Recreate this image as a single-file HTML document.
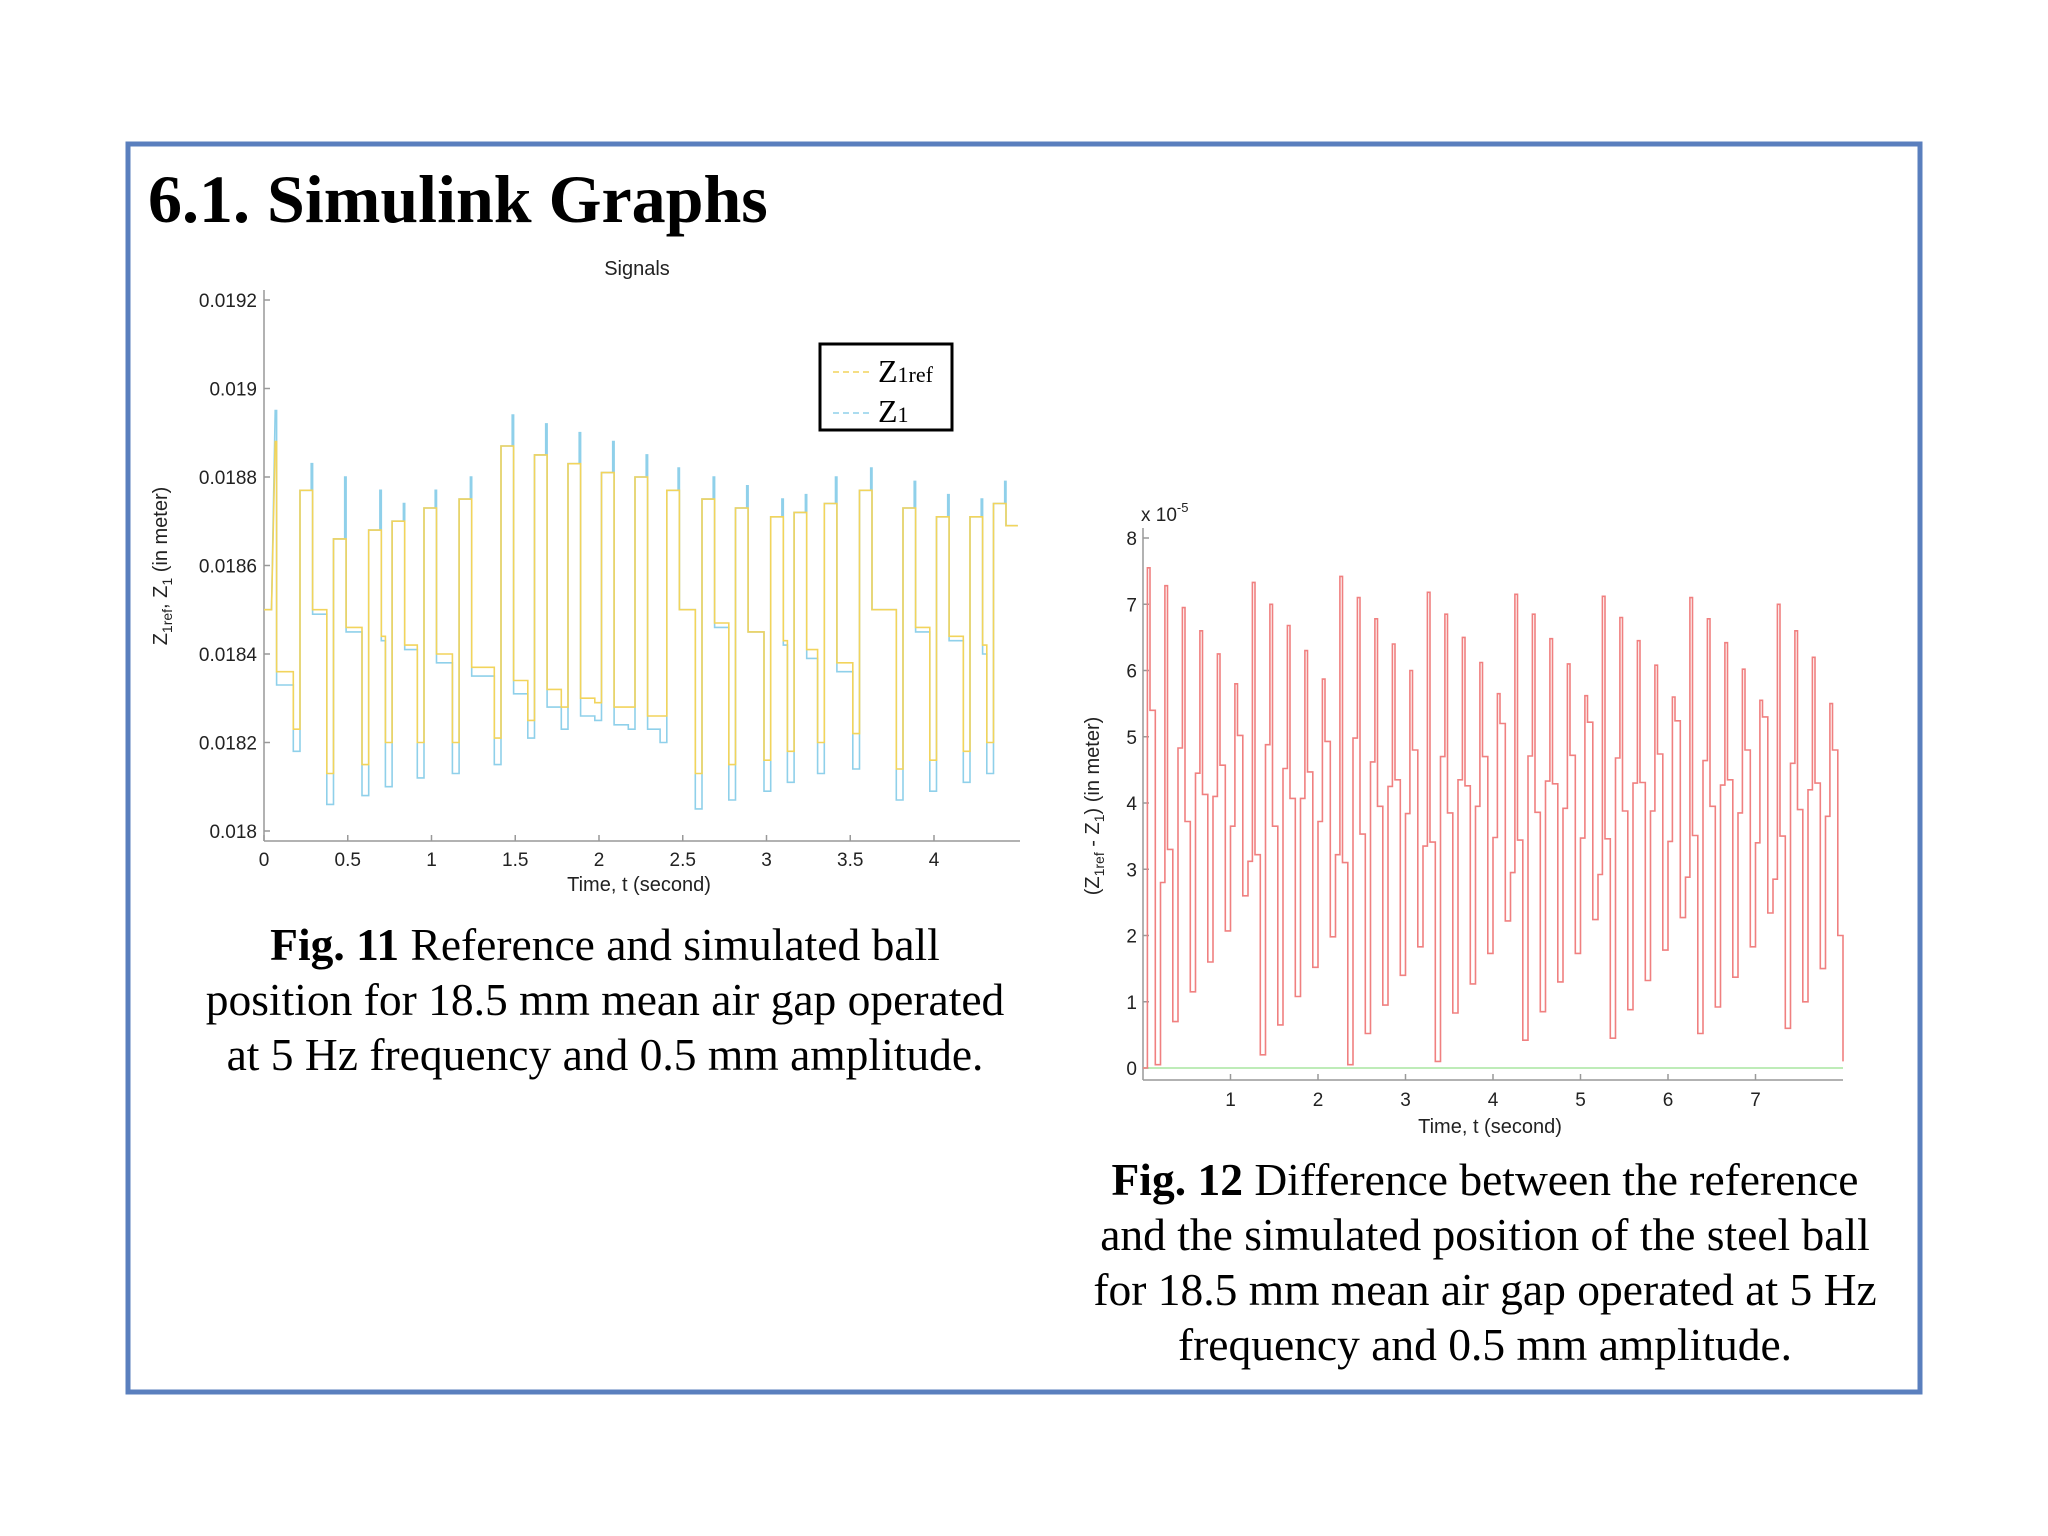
<!DOCTYPE html>
<html><head><meta charset="utf-8"><style>
html,body{margin:0;padding:0;background:#fff;}
svg{display:block;}
text{font-family:"Liberation Sans",sans-serif;fill:#222;}
.serif{font-family:"Liberation Serif",serif;fill:#000;}
</style></head><body>
<svg id="pg" width="2048" height="1536" viewBox="0 0 2048 1536" xmlns="http://www.w3.org/2000/svg">
<rect x="128" y="144" width="1792" height="1248" fill="none" stroke="#5a7fbe" stroke-width="5"/>
<text class="serif" x="148" y="222" font-size="68" font-weight="bold">6.1. Simulink Graphs</text>

<g id="c1">
<text x="637" y="275" font-size="20" text-anchor="middle">Signals</text>
<line x1="264" y1="290" x2="264" y2="841" stroke="#999" stroke-width="1.5"/>
<line x1="264" y1="841" x2="1020" y2="841" stroke="#999" stroke-width="1.5"/>
<text x="639" y="891" font-size="20" text-anchor="middle">Time, t (second)</text>
<text transform="translate(167,566) rotate(-90)" font-size="20" text-anchor="middle">Z<tspan font-size="14" dy="5">1ref</tspan><tspan dy="-5">, Z</tspan><tspan font-size="14" dy="5">1</tspan><tspan dy="-5"> (in meter)</tspan></text>
<g id="c1ticks"></g>
<g id="c1lines"></g>
<g>
<rect x="820" y="344" width="132" height="86" fill="#fff" stroke="#000" stroke-width="3"/>
<line x1="833" y1="372" x2="870" y2="372" stroke="#f2d45c" stroke-width="1.5" stroke-dasharray="6,4"/>
<text class="serif" x="878" y="382" font-size="32">Z<tspan font-size="22">1ref</tspan></text>
<line x1="833" y1="413" x2="870" y2="413" stroke="#8fd0ea" stroke-width="1.5" stroke-dasharray="6,4"/>
<text class="serif" x="878" y="422" font-size="32">Z<tspan font-size="22">1</tspan></text>
</g>
</g>

<g id="c2">
<line x1="1143" y1="528" x2="1143" y2="1080" stroke="#999" stroke-width="1.5"/>
<line x1="1143" y1="1080" x2="1843" y2="1080" stroke="#999" stroke-width="1.5"/>
<text x="1141" y="521" font-size="19">x 10<tspan font-size="13" dy="-9">-5</tspan></text>
<text x="1490" y="1133" font-size="20" text-anchor="middle">Time, t (second)</text>
<text transform="translate(1099,806) rotate(-90)" font-size="20" text-anchor="middle">(Z<tspan font-size="14" dy="5">1ref</tspan><tspan dy="-5"> - Z</tspan><tspan font-size="14" dy="5">1</tspan><tspan dy="-5">) (in meter)</tspan></text>
<g id="c2ticks"></g>
<g id="c2lines"></g>
</g>

<g>
<text class="serif" x="605" y="960" font-size="45.5" text-anchor="middle"><tspan font-weight="bold">Fig. 11</tspan> Reference and simulated ball</text>
<text class="serif" x="605" y="1015" font-size="45.5" text-anchor="middle">position for 18.5 mm mean air gap operated</text>
<text class="serif" x="605" y="1070" font-size="45.5" text-anchor="middle">at 5 Hz frequency and 0.5 mm amplitude.</text>
</g>
<g>
<text class="serif" x="1485" y="1195" font-size="45.5" text-anchor="middle"><tspan font-weight="bold">Fig. 12</tspan> Difference between the reference</text>
<text class="serif" x="1485" y="1250" font-size="45.5" text-anchor="middle">and the simulated position of the steel ball</text>
<text class="serif" x="1485" y="1305" font-size="45.5" text-anchor="middle">for 18.5 mm mean air gap operated at 5 Hz</text>
<text class="serif" x="1485" y="1360" font-size="45.5" text-anchor="middle">frequency and 0.5 mm amplitude.</text>
</g>
</svg>
<script>
// ---- Chart 1 data ----
const c1XTicks=[0,0.5,1,1.5,2,2.5,3,3.5,4];
const c1XTickLabels=["0","0.5","1","1.5","2","2.5","3","3.5","4"];
const c1YTicks=[0.018,0.0182,0.0184,0.0186,0.0188,0.019,0.0192];
const c1YTickLabels=["0.018","0.0182","0.0184","0.0186","0.0188","0.019","0.0192"];
const spikeT=[0.075,0.29,0.49,0.70,0.84,1.03,1.24,1.49,1.69,1.89,2.09,2.29,2.48,2.69,2.89,3.10,3.24,3.42,3.63,3.89,4.09,4.29,4.43];
const refHigh=[0.01888,0.01877,0.01866,0.01868,0.01870,0.01873,0.01875,0.01887,0.01885,0.01883,0.01881,0.01880,0.01877,0.01875,0.01873,0.01871,0.01872,0.01874,0.01877,0.01873,0.01871,0.01871,0.01874];
const simPeak=[0.01895,0.01883,0.01880,0.01877,0.01874,0.01877,0.01880,0.01894,0.01892,0.01890,0.01888,0.01885,0.01882,0.01880,0.01878,0.01875,0.01876,0.01880,0.01882,0.01879,0.01876,0.01875,0.01879];
const refMid=[0.01836,0.01850,0.01846,0.01844,0.01842,0.01840,0.01837,0.01834,0.01832,0.01830,0.01828,0.01826,0.01850,0.01847,0.01845,0.01843,0.01841,0.01838,0.01850,0.01846,0.01844,0.01842,0.01840];
const simMid=[0.01833,0.01849,0.01845,0.01843,0.01841,0.01838,0.01835,0.01831,0.01828,0.01826,0.01824,0.01823,0.01850,0.01846,0.01845,0.01842,0.01839,0.01836,0.01850,0.01845,0.01843,0.01840,0.01838];
const refLow=[0.01823,0.01813,0.01815,0.01820,0.01820,0.01820,0.01821,0.01825,0.01828,0.01829,0.01828,0.01826,0.01813,0.01815,0.01816,0.01818,0.01820,0.01822,0.01814,0.01816,0.01818,0.01820,0.01820];
const simLow=[0.01818,0.01806,0.01808,0.01810,0.01812,0.01813,0.01815,0.01821,0.01823,0.01825,0.01823,0.01820,0.01805,0.01807,0.01809,0.01811,0.01813,0.01814,0.01807,0.01809,0.01811,0.01813,0.01813];
const c1TMax=4.5;
// ---- Chart 2 data ----
const c2XTicks=[1,2,3,4,5,6,7];
const c2XTickLabels=["1","2","3","4","5","6","7"];
const c2YTicks=[0,1,2,3,4,5,6,7,8];
const c2YTickLabels=["0","1","2","3","4","5","6","7","8"];
const diffPeak=[7.55,7.28,6.95,6.6,6.25,5.8,7.33,7.0,6.68,6.3,5.87,7.42,7.1,6.78,6.4,6.0,7.18,6.85,6.5,6.12,5.65,7.15,6.85,6.48,6.1,5.62,7.12,6.8,6.45,6.08,5.6,7.1,6.78,6.42,6.02,5.55,7.0,6.6,6.2,5.5];
const diffLevel1=[5.4,3.3,3.72,4.13,4.57,5.02,3.22,3.65,4.07,4.47,4.93,3.1,3.53,3.95,4.35,4.8,3.41,3.85,4.26,4.7,5.2,3.44,3.86,4.29,4.72,5.22,3.46,3.88,4.31,4.74,5.24,3.51,3.95,4.35,4.8,5.3,3.5,3.9,4.3,4.8];
const diffTrough=[0.05,0.7,1.15,1.6,2.07,2.6,0.2,0.65,1.08,1.52,1.98,0.05,0.52,0.95,1.4,1.83,0.1,0.83,1.27,1.73,2.22,0.42,0.85,1.3,1.73,2.24,0.45,0.88,1.32,1.78,2.27,0.52,0.92,1.37,1.83,2.34,0.6,1.0,1.5,2.0];
const diffLevel2=[2.8,4.83,4.45,4.1,3.65,3.12,4.88,4.52,4.07,3.72,3.22,4.98,4.62,4.25,3.84,3.35,4.7,4.35,3.95,3.48,2.95,4.71,4.33,3.92,3.47,2.92,4.68,4.3,3.88,3.42,2.88,4.64,4.27,3.85,3.4,2.85,4.6,4.2,3.8,3.3];
const c2TMax=8.0;
const NS="http://www.w3.org/2000/svg";
function mk(tag,attrs,parent){const e=document.createElementNS(NS,tag);for(const k in attrs)e.setAttribute(k,attrs[k]);parent.appendChild(e);return e;}
const x1=t=>264+t*(934-264)/4;
const y1=v=>831-(v-0.018)*(831-300)/0.0012;
const x2=t=>1143+t*87.5;
const y2=v=>1068-v*(1068-538)/8;
const t1=document.getElementById('c1ticks');
c1XTicks.forEach((t,i)=>{
 const l=mk('line',{x1:x1(t),y1:841,x2:x1(t),y2:835,stroke:'#999','stroke-width':1.5},t1);
 
 
 const tx=mk('text',{x:x1(t),y:866,'font-size':19,'text-anchor':'middle'},t1);tx.textContent=c1XTickLabels[i];
 
 
});
c1YTicks.forEach((v,i)=>{
 const l=mk('line',{x1:264,y1:y1(v),x2:270,y2:y1(v),stroke:'#999','stroke-width':1.5},t1);
 
 
 const tx=mk('text',{x:257,y:y1(v)+7,'font-size':19,'text-anchor':'end'},t1);tx.textContent=c1YTickLabels[i];
 
 
});
function stepPath(segs,xf,yf){let d='';segs.forEach((s,i)=>{const a=xf(s[0]),b=xf(s[1]),y=yf(s[2]);d+=(i===0?'M':'L')+a.toFixed(1)+','+y.toFixed(1)+'L'+b.toFixed(1)+','+y.toFixed(1);});return d;}
function buildSeries(high,mid,low,peak){
 const segs=[[0,spikeT[0]-0.03,0.0185]];
 for(let k=0;k<spikeT.length;k++){
  const rise=k===0?spikeT[0]-0.03:spikeT[k]-0.075;
  const nextRise=k+1<spikeT.length?spikeT[k+1]-0.075:c1TMax;
  if(k>0)segs.push([rise,spikeT[k]-0.008,high[k]]);
  segs.push([spikeT[k]-0.008,spikeT[k],peak?peak[k]:high[k]]);
  if(k+1<spikeT.length){
   segs.push([spikeT[k],nextRise-0.04,mid[k]]);
   segs.push([nextRise-0.04,nextRise,low[k]]);
  }else{segs.push([spikeT[k],c1TMax,high[k]-0.00005]);}
 }
 return segs;
}
const g1=document.getElementById('c1lines');
const pSim=mk('path',{d:stepPath(buildSeries(refHigh,simMid,simLow,simPeak),x1,y1),fill:'none',stroke:'#8fd0ea','stroke-width':1.6},g1);


const pRef=mk('path',{d:stepPath(buildSeries(refHigh,refMid,refLow,null),x1,y1),fill:'none',stroke:'#f2d45c','stroke-width':1.6},g1);


const t2=document.getElementById('c2ticks');
c2XTicks.forEach((t,i)=>{
 const l=mk('line',{x1:x2(t),y1:1080,x2:x2(t),y2:1074,stroke:'#999','stroke-width':1.5},t2);
 
 
 const tx=mk('text',{x:x2(t),y:1106,'font-size':19,'text-anchor':'middle'},t2);tx.textContent=c2XTickLabels[i];
 
 
});
c2YTicks.forEach((v,i)=>{
 const l=mk('line',{x1:1143,y1:y2(v),x2:1149,y2:y2(v),stroke:'#999','stroke-width':1.5},t2);
 
 
 const tx=mk('text',{x:1137,y:y2(v)+7,'font-size':19,'text-anchor':'end'},t2);tx.textContent=c2YTickLabels[i];
 
 
});
const g2=document.getElementById('c2lines');
const zl=mk('line',{x1:x2(0),y1:y2(0),x2:x2(c2TMax),y2:y2(0),stroke:'#a8e6a0','stroke-width':1.6},g2);


const segs2=[];
diffPeak.forEach((p,k)=>{
 const t=0.05+0.2*k;
 if(t>=c2TMax)return;
 segs2.push([t,Math.min(t+0.03,c2TMax),p]);
 segs2.push([t+0.03,Math.min(t+0.09,c2TMax),diffLevel1[k]]);
 segs2.push([t+0.09,Math.min(t+0.15,c2TMax),diffTrough[k]]);
 segs2.push([t+0.15,Math.min(t+0.2,c2TMax),diffLevel2[k]]);
});
let d2='M'+x2(0).toFixed(1)+','+y2(0).toFixed(1)+'L'+x2(0.05).toFixed(1)+','+y2(0).toFixed(1);
segs2.filter(s=>s[0]<c2TMax).forEach(s=>{d2+='L'+x2(s[0]).toFixed(1)+','+y2(s[2]).toFixed(1)+'L'+x2(s[1]).toFixed(1)+','+y2(s[2]).toFixed(1);});
d2+='L'+x2(c2TMax).toFixed(1)+','+y2(0.1).toFixed(1);
const pd=mk('path',{d:d2,fill:'none',stroke:'#f08080','stroke-width':1.6},g2);


</script>
</body></html>
